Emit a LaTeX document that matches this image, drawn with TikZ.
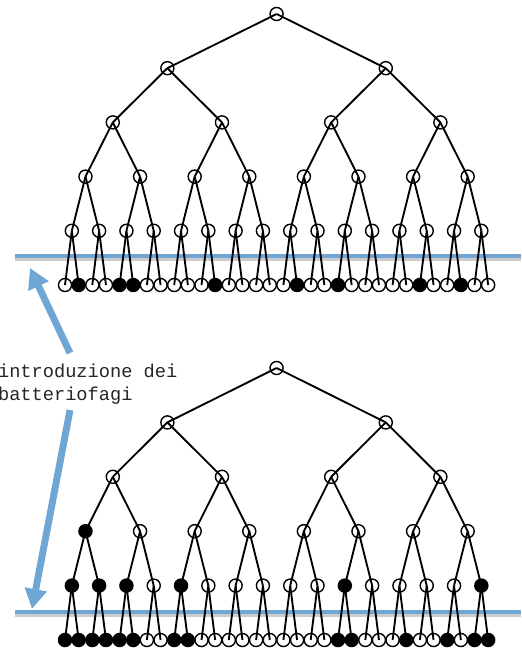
\documentclass[tikz,border=0pt]{standalone}
\usepackage{fontspec}
\newfontfamily\labelfont{Liberation Mono}
\usetikzlibrary{arrows.meta}

\definecolor{phageblue}{RGB}{112,166,212}

\tikzset{
  cell/.style={draw, circle, line width=1.05pt, minimum size=9.8pt, inner sep=0pt},
  branch/.style={line width=1.4pt},
  cutline/.style={phageblue, line width=2.4pt},
  cutshade/.style={black!20, line width=3pt},
  phagearrow/.style={phageblue, line width=5.2pt, -{Triangle[width=16pt, length=15pt]}},
  phagetext/.style={anchor=base west, inner sep=0pt, text=black!85,
    font=\labelfont\fontsize{14}{17}\selectfont}
}

\begin{document}
\begin{tikzpicture}[x=0.75pt,y=-0.75pt]
  \useasboundingbox (0,0) rectangle (521,648);

  % linee di introduzione
  \draw[cutshade] (15,258.5) -- (521,258.5);
  \draw[cutline] (15,256) -- (521,256);
  \draw[cutshade] (15,614.5) -- (521,614.5);
  \draw[cutline] (15,612) -- (521,612);

  % alberi: a = sopra, b = sotto
  \foreach \t/\ya/\dy in {a/14/54.2, b/368/54.4} {
    \foreach \L in {0,...,5} {
      \pgfmathtruncatemacro{\n}{2^\L-1}
      \pgfmathsetmacro{\w}{2^(5-\L)}
      \foreach \j in {0,...,\n} {
        \node[cell] (\t-\L-\j) at ({65+13.65*(\j*\w+(\w-1)/2)}, {\ya+\dy*\L}) {};
      }
    }
  }

  \foreach \t in {a,b} {
    \foreach \L in {1,...,5} {
      \pgfmathtruncatemacro{\n}{2^\L-1}
      \pgfmathtruncatemacro{\Lp}{\L-1}
      \foreach \j in {0,...,\n} {
        \pgfmathtruncatemacro{\up}{floor(\j/2)}
        \draw[branch] (\t-\Lp-\up.center) -- (\t-\L-\j.center);
      }
    }
  }

  % cellule infettate
  \foreach \c in {a-5-1, a-5-4, a-5-5, a-5-11, a-5-17, a-5-20, a-5-26, a-5-29,
                  b-3-0, b-4-0, b-4-1, b-4-2, b-4-4, b-4-10, b-4-15,
                  b-5-0, b-5-1, b-5-2, b-5-3, b-5-4, b-5-5, b-5-8, b-5-9,
                  b-5-20, b-5-21, b-5-25, b-5-28, b-5-30, b-5-31}
    \fill (\c.center) circle (6.5);

  % testo e frecce
  \node[phagetext] (introa) at (-2.2,377) {introduzione dei};
  \node[phagetext] (introb) at (-2.2,400) {batteriofagi};

  \coordinate (tailup) at (70,353);
  \coordinate (tipup) at (30,268);
  \coordinate (taildown) at (70,410);
  \coordinate (tipdown) at (32,609);
  \draw[phagearrow] (tailup) -- (tipup);
  \draw[phagearrow] (taildown) -- (tipdown);
\end{tikzpicture}
\end{document}
